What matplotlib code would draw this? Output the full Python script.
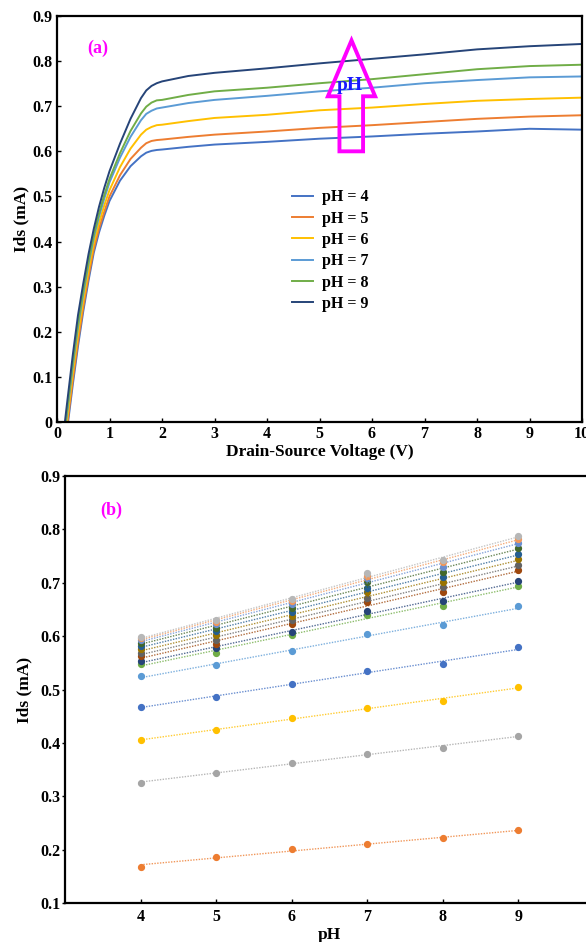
import numpy as np
import matplotlib
matplotlib.use("Agg")
import matplotlib.pyplot as plt
from matplotlib.patches import Polygon

plt.rcParams["font.family"] = ["Liberation Serif", "DejaVu Serif"]
plt.rcParams["font.weight"] = "bold"
plt.rcParams["axes.labelweight"] = "bold"

# ---- (a) output characteristics: Ids vs Vds for each pH ----
vds = [0.1, 0.2, 0.3, 0.4, 0.5, 0.6, 0.7, 0.8, 0.9, 1.0, 1.2, 1.4, 1.6, 1.7,
       1.8, 1.9, 2.0, 2.5, 3, 4, 5, 6, 7, 8, 9, 10]
ids_ph4 = [-0.110, -0.010, 0.082, 0.168, 0.245, 0.313, 0.375, 0.420, 0.457, 0.490,
           0.535, 0.567, 0.589, 0.597, 0.601, 0.603, 0.604, 0.610, 0.615, 0.621,
           0.628, 0.633, 0.639, 0.644, 0.650, 0.648]
ids_ph5 = [-0.101, -0.001, 0.092, 0.178, 0.254, 0.322, 0.383, 0.429, 0.466, 0.500,
           0.547, 0.583, 0.608, 0.618, 0.623, 0.625, 0.626, 0.632, 0.637, 0.644,
           0.652, 0.658, 0.665, 0.672, 0.677, 0.680]
ids_ph6 = [-0.088, 0.012, 0.106, 0.194, 0.268, 0.335, 0.395, 0.441, 0.480, 0.514,
           0.565, 0.606, 0.637, 0.648, 0.654, 0.658, 0.659, 0.667, 0.674, 0.681,
           0.691, 0.697, 0.705, 0.712, 0.716, 0.719]
ids_ph7 = [-0.073, 0.027, 0.123, 0.211, 0.283, 0.350, 0.408, 0.455, 0.495, 0.531,
           0.586, 0.632, 0.669, 0.683, 0.690, 0.695, 0.697, 0.707, 0.714, 0.723,
           0.733, 0.741, 0.751, 0.758, 0.764, 0.766]
ids_ph8 = [-0.066, 0.034, 0.131, 0.219, 0.291, 0.357, 0.414, 0.462, 0.503, 0.539,
           0.596, 0.645, 0.684, 0.699, 0.708, 0.713, 0.714, 0.725, 0.733, 0.741,
           0.751, 0.760, 0.771, 0.782, 0.789, 0.792]
ids_ph9 = [-0.050, 0.050, 0.148, 0.237, 0.307, 0.372, 0.428, 0.477, 0.519, 0.556,
           0.617, 0.672, 0.718, 0.735, 0.745, 0.751, 0.755, 0.767, 0.774, 0.784,
           0.795, 0.805, 0.815, 0.826, 0.833, 0.838]
labels_a = ["pH = 4", "pH = 5", "pH = 6", "pH = 7", "pH = 8", "pH = 9"]
colors_a = ["#4472C4", "#ED7D31", "#FFC000", "#5B9BD5", "#70AD47", "#264478"]

# ---- (b) Ids vs pH, one series per bias point ----
ph = [4, 5, 6, 7, 8, 9]
series_b = [
    [0.468, 0.486, 0.510, 0.534, 0.547, 0.579],
    [0.168, 0.187, 0.201, 0.210, 0.221, 0.236],
    [0.325, 0.344, 0.363, 0.380, 0.391, 0.413],
    [0.405, 0.425, 0.446, 0.466, 0.479, 0.505],
    [0.525, 0.545, 0.573, 0.604, 0.620, 0.656],
    [0.547, 0.569, 0.602, 0.640, 0.657, 0.694],
    [0.553, 0.577, 0.608, 0.647, 0.665, 0.704],
    [0.562, 0.586, 0.622, 0.664, 0.683, 0.724],
    [0.569, 0.593, 0.630, 0.672, 0.692, 0.734],
    [0.575, 0.602, 0.638, 0.682, 0.702, 0.744],
    [0.581, 0.610, 0.646, 0.691, 0.711, 0.754],
    [0.588, 0.616, 0.653, 0.701, 0.721, 0.765],
    [0.592, 0.622, 0.661, 0.709, 0.730, 0.775],
    [0.596, 0.626, 0.666, 0.713, 0.738, 0.782],
    [0.598, 0.630, 0.669, 0.718, 0.743, 0.787],
]
colors_b = ["#4472C4", "#ED7D31", "#A5A5A5", "#FFC000", "#5B9BD5", "#70AD47",
            "#264478", "#9E480E", "#636363", "#997300", "#255E91", "#43682B",
            "#698ED0", "#F1975A", "#B7B7B7"]

fig = plt.figure(figsize=(5.86, 9.42), dpi=100)

# top panel
ax = fig.add_axes([57 / 586, 520 / 942, 525 / 586, 406 / 942])
for y, c, lab in zip([ids_ph4, ids_ph5, ids_ph6, ids_ph7, ids_ph8, ids_ph9],
                     colors_a, labels_a):
    ax.plot(vds, y, "-", lw=1.4, color=c, label=lab)
ax.set_xlim(0, 10)
ax.set_ylim(0, 0.9)
ax.set_xticks(range(0, 11))
ax.set_yticks(np.arange(0, 0.91, 0.1))
ax.set_yticklabels(["0", "0.1", "0.2", "0.3", "0.4", "0.5", "0.6", "0.7", "0.8", "0.9"])
ax.tick_params(direction="in", length=3, width=1, labelsize=11.5, pad=3)
for s in ax.spines.values():
    s.set_linewidth(1.6)
ax.set_xlabel("Drain-Source Voltage (V)", fontsize=12.5, labelpad=1)
ax.set_ylabel("Ids (mA)", fontsize=12.5, labelpad=2)
ax.legend(loc="center left", bbox_to_anchor=(0.448, 0.422), frameon=False,
          fontsize=11.5, handlelength=1.3, handletextpad=0.55, labelspacing=0.33,
          borderpad=0, borderaxespad=0)
ax.text(0.77, 0.828, "(a)", color="#FF00FF", fontsize=13, ha="center", va="center")

# pH arrow (outlined block arrow)
arrow_x = [5.38, 5.83, 5.83, 6.06, 5.61, 5.16, 5.38]
arrow_y = [0.600, 0.600, 0.722, 0.722, 0.846, 0.722, 0.722]
ax.add_patch(Polygon(list(zip(arrow_x, arrow_y)), closed=True, fill=False,
                     edgecolor="#FF00FF", lw=2.8, zorder=5))
ax.text(5.58, 0.745, "pH", color="#1A1AFF", fontsize=14, ha="center",
        va="center", zorder=6)

# bottom panel
bx = fig.add_axes([65 / 586, 39 / 942, 529 / 586, 427 / 942])
for y, c in zip(series_b, colors_b):
    k, b0 = np.polyfit(ph, y, 1)
    xs = np.array([ph[0], ph[-1]])
    bx.plot(xs, k * xs + b0, linestyle=(0, (1, 1)), lw=1.0, color=c, alpha=0.8)
    bx.plot(ph, y, "o", ms=4.2, color=c, mec=c)
bx.set_xlim(3, 10)
bx.set_ylim(0.1, 0.9)
bx.set_xticks(ph)
bx.set_yticks(np.arange(0.1, 0.91, 0.1))
bx.set_yticklabels(["0.1", "0.2", "0.3", "0.4", "0.5", "0.6", "0.7", "0.8", "0.9"])
bx.tick_params(axis="x", direction="in", length=3, width=1, labelsize=11.5, pad=4)
bx.tick_params(axis="y", direction="out", length=2, width=1, labelsize=11.5, pad=1)
for s in bx.spines.values():
    s.set_linewidth(1.6)
bx.set_xlabel("pH", fontsize=12.5, labelpad=2)
bx.set_ylabel("Ids (mA)", fontsize=12.5, labelpad=6)
bx.text(3.61, 0.836, "(b)", color="#FF00FF", fontsize=13, ha="center", va="center")

fig.savefig("out.png", dpi=100)
